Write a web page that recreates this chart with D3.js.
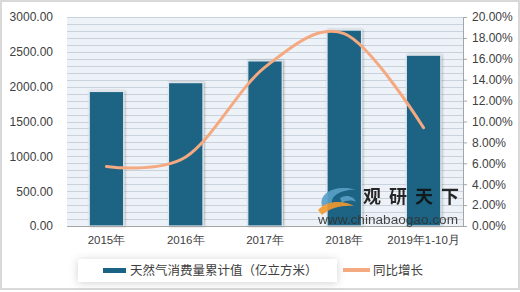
<!DOCTYPE html>
<html><head><meta charset="utf-8">
<script src="https://cdn.jsdelivr.net/npm/d3@7"></script>
<style>
html,body{margin:0;padding:0;background:#fff;}
svg{display:block;font-family:"Noto Sans CJK SC","Microsoft YaHei",sans-serif;}
</style></head>
<body>
<svg id="c" width="520" height="292"></svg>
<script>
const categories = ["2015年","2016年","2017年","2018年","2019年1-10月"];
const consumption = [1931, 2058, 2370, 2812, 2452];
const growth = [5.7, 6.6, 15.2, 18.4, 9.4];
const leftTicks = [0,500,1000,1500,2000,2500,3000];
const rightTicks = [0,2,4,6,8,10,12,14,16,18,20];
const seriesNames = ["天然气消费量累计值（亿立方米）","同比增长"];

const svg = d3.select("#c");
const W=520,H=292;
const L=67,R=463,T=17,B=226;

// outer frame
svg.append("rect").attr("x",1).attr("y",1).attr("width",W-2).attr("height",H-4)
  .attr("fill","#fff").attr("stroke","#d9d9d9").attr("stroke-width",2);

const defs = svg.append("defs");
const f = defs.append("filter").attr("id","sh").attr("x","-20%").attr("y","-40%").attr("width","140%").attr("height","180%");
f.append("feDropShadow").attr("dx",0).attr("dy",1).attr("stdDeviation",4).attr("flood-color","#000").attr("flood-opacity",0.18);
const f2 = defs.append("filter").attr("id","bsh").attr("x","-30%").attr("y","-10%").attr("width","160%").attr("height","120%");
f2.append("feDropShadow").attr("dx",1).attr("dy",0).attr("stdDeviation",1.2).attr("flood-color","#000").attr("flood-opacity",0.3);

const x = d3.scaleBand().domain(categories).range([L,R]).paddingInner(0.565).paddingOuter(0.28);
const yL = d3.scaleLinear().domain([0,3000]).range([B,T]);
const yR = d3.scaleLinear().domain([0,20]).range([B,T]);

// plot background
svg.append("rect").attr("x",L).attr("y",T).attr("width",R-L).attr("height",B-T).attr("fill","#edf2f8");
svg.append("g").selectAll("line").data(d3.range(100,3001,100)).join("line")
  .attr("x1",L).attr("x2",R).attr("y1",d=>Math.round(yL(d))+0.5).attr("y2",d=>Math.round(yL(d))+0.5)
  .attr("stroke","#c9d1da").attr("stroke-width",1);

// bars
svg.append("g").selectAll("rect").data(consumption).join("rect")
  .attr("x",(d,i)=>x(categories[i])).attr("width",x.bandwidth())
  .attr("y",d=>yL(d)).attr("height",d=>B-yL(d))
  .attr("fill","#1b6384").attr("stroke","#dfe6ec").attr("stroke-width",1.2)
  .attr("filter","url(#bsh)");

// baseline
svg.append("line").attr("x1",L).attr("x2",R).attr("y1",B+0.5).attr("y2",B+0.5).attr("stroke","#a6a6a6");

// left axis
const gl = svg.append("g").attr("transform",`translate(${L},0)`)
  .call(d3.axisLeft(yL).tickValues(leftTicks).tickFormat(d3.format(".2f")).tickSize(0).tickPadding(14));
gl.select(".domain").remove();
gl.selectAll("text").attr("font-size",12).attr("fill","#404040").attr("font-family","Liberation Sans, Arial, sans-serif");

// right axis
const gr = svg.append("g").attr("transform",`translate(${R},0)`)
  .call(d3.axisRight(yR).tickValues(rightTicks).tickFormat(d=>d.toFixed(2)+"%").tickSize(4).tickPadding(5));
gr.select(".domain").attr("stroke","#a6a6a6");
gr.selectAll("line").attr("stroke","#a6a6a6");
gr.selectAll("text").attr("font-size",12).attr("fill","#404040").attr("font-family","Liberation Sans, Arial, sans-serif");

// x axis labels
const gx = svg.append("g").attr("transform",`translate(0,${B})`)
  .call(d3.axisBottom(x).tickSize(0).tickPadding(10));
gx.select(".domain").remove();
gx.selectAll("text").attr("font-size",11.5).attr("fill","#404040");

// watermark
const wm = svg.append("g").attr("opacity",0.9);
wm.append("path").attr("d","M322,206 C318,192 338,184 356,190 C346,189 330,194 332,204 Z").attr("fill","#5aa0c8");
wm.append("path").attr("d","M340,198 C346,194 354,196 356,202 C352,200 346,200 342,203 Z").attr("fill","#5aa0c8");
wm.append("path").attr("d","M318,210 C326,200 344,200 354,206 C342,205 330,208 322,215 Z").attr("fill","#f29a2e");
wm.append("text").attr("x",363).attr("y",203).attr("font-size",18).attr("font-weight","bold").attr("fill","#111")
  .attr("textLength",96).attr("lengthAdjust","spacing").text("观研天下");
wm.append("text").attr("x",318).attr("y",224).attr("font-size",12).attr("fill","#333").attr("font-family","Liberation Sans, Arial, sans-serif")
  .attr("textLength",140).attr("lengthAdjust","spacingAndGlyphs").text("www.chinabaogao.com");

// line
const line = d3.line().x((d,i)=>x(categories[i])+x.bandwidth()/2).y(d=>yR(d)).curve(d3.curveCatmullRom.alpha(0));
svg.append("path").datum(growth).attr("d",line).attr("fill","none").attr("stroke","#f4a980").attr("stroke-width",3).attr("stroke-linecap","round");

// legend
svg.append("rect").attr("x",78).attr("y",259).attr("width",259).attr("height",23).attr("fill","#fff").attr("filter","url(#sh)");
svg.append("rect").attr("x",103).attr("y",268).attr("width",23).attr("height",5).attr("fill","#1b6384");
svg.append("text").attr("x",130).attr("y",275).attr("font-size",12.5).attr("fill","#404040").text(seriesNames[0]);
svg.append("rect").attr("x",343).attr("y",268).attr("width",27).attr("height",4).attr("fill","#f4a980");
svg.append("text").attr("x",373).attr("y",275).attr("font-size",12.5).attr("fill","#404040").text(seriesNames[1]);
</script>
</body></html>
